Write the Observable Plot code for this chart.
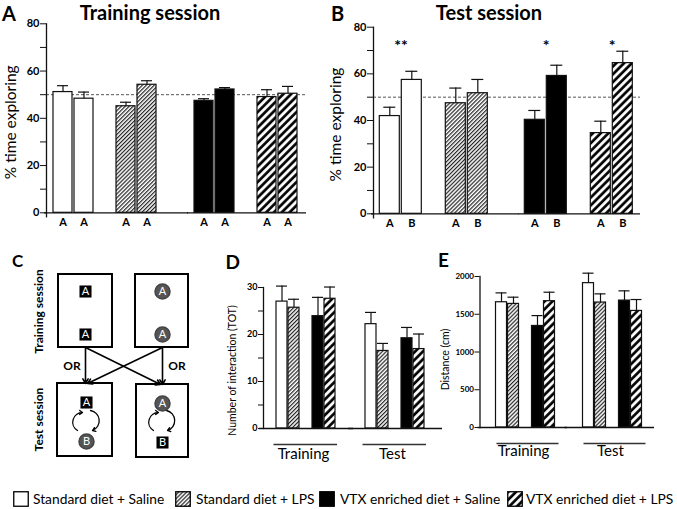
<!DOCTYPE html>
<html><head><meta charset="utf-8">
<script src="https://cdn.jsdelivr.net/npm/d3@7"></script>
<script src="https://cdn.jsdelivr.net/npm/@observablehq/plot@0.6"></script>
<style>
body{margin:0;background:#fff}
#fig{position:relative;width:677px;height:509px;background:#fff;font-family:Lato,sans-serif;color:#000;overflow:hidden}
.abs{position:absolute;line-height:1;white-space:nowrap}
.letter{font-weight:700}
.title{font-weight:700;font-size:20px;transform:translateX(-50%)}
.legtext{font-size:13.8px}
.panel{position:absolute}
</style></head><body>
<div id="fig">
<svg width="0" height="0" style="position:absolute">
<defs>
<pattern id="hatchFine" width="2.8" height="2.8" patternUnits="userSpaceOnUse" patternTransform="rotate(45)">
<rect width="2.8" height="2.8" fill="#fff"/><line x1="0.6" y1="0" x2="0.6" y2="2.8" stroke="#222" stroke-width="1.2"/>
</pattern>
<pattern id="hatchBold" width="5.5" height="5.5" patternUnits="userSpaceOnUse" patternTransform="rotate(45)">
<rect width="5.5" height="5.5" fill="#fff"/><line x1="1.5" y1="0" x2="1.5" y2="5.5" stroke="#000" stroke-width="2.7"/>
</pattern>
</defs></svg>
<div class="abs letter" style="left:2px;top:2.5px;font-size:20px">A</div>
<div class="abs title" style="left:150px;top:2px">Training session</div>
<div class="abs letter" style="left:331px;top:2.5px;font-size:20px">B</div>
<div class="abs title" style="left:489px;top:2px">Test session</div>
<div class="abs letter" style="left:12px;top:252px;font-size:17px">C</div>
<div class="abs letter" style="left:225.5px;top:251.8px;font-size:19px">D</div>
<div class="abs letter" style="left:438px;top:249.8px;font-size:19px">E</div>
<div id="pA" class="panel" style="left:0;top:0;width:322px;height:235px"></div>
<div id="pB" class="panel" style="left:322px;top:0;width:355px;height:235px"></div>
<div id="pC" class="panel" style="left:0;top:240px;width:210px;height:230px"></div>
<div id="pD" class="panel" style="left:210px;top:240px;width:240px;height:235px"></div>
<div id="pE" class="panel" style="left:440px;top:240px;width:237px;height:235px"></div>
<div id="legend"></div>
</div>
<script>
// ---------- data ----------
const groups = ["Standard diet + Saline", "Standard diet + LPS", "VTX enriched diet + Saline", "VTX enriched diet + LPS"];
const diets = ["Standard diet", "VTX enriched diet"];
const treatments = ["Saline", "LPS"];
const fills = ["#ffffff", "url(#hatchFine)", "#000000", "url(#hatchBold)"];

// Panel A: training session, % time exploring each object
const trainingObjects = ["A", "A"];
const trainingFirstMean = [51.1, 45.1, 47.4, 49.0];
const trainingFirstSem = [2.7, 1.7, 0.9, 3.1];
const trainingSecondMean = [48.3, 54.2, 52.2, 50.4];
const trainingSecondSem = [2.8, 1.7, 0.8, 3.1];

// Panel B: test session
const testObjects = ["A", "B"];
const testFirstMean = [41.9, 47.4, 40.3, 34.6];
const testFirstSem = [3.8, 6.5, 4.0, 5.1];
const testSecondMean = [57.4, 51.7, 59.1, 64.6];
const testSecondSem = [3.7, 5.9, 4.6, 5.1];
const testSignificance = ["**", "", "*", "*"];
const chanceLevel = 50;
const percentTicks = [0, 20, 40, 60, 80];
const percentMinorTicks = [10, 30, 50, 70];

// Panel D: number of interactions
const sessions = ["Training", "Test"];
const interactionTraining = [27.0, 25.7, 23.9, 27.6];
const interactionTrainingSem = [3.3, 1.8, 4.0, 2.5];
const interactionTest = [22.2, 16.5, 19.2, 16.9];
const interactionTestSem = [2.5, 1.6, 2.3, 3.2];
const interactionTicks = [0, 10, 20, 30];
const interactionMinorTicks = [5, 15, 25];

// Panel E: distance travelled (cm)
const distanceTraining = [1659, 1637, 1345, 1673];
const distanceTrainingSem = [124, 89, 137, 119];
const distanceTest = [1912, 1655, 1681, 1544];
const distanceTestSem = [132, 115, 129, 151];
const distanceTicks = [0, 500, 1000, 1500, 2000];

// Panel C: schematic of the protocol (diagram units)
const cBoxes = [
  {x1: 58, y1: 34, x2: 112, y2: 107}, {x1: 135, y1: 34, x2: 188, y2: 107},
  {x1: 57, y1: 143, x2: 112, y2: 216}, {x1: 136, y1: 144, x2: 188, y2: 217}
];
const cObjects = [
  {shape: "square", label: "A", x: 85, y: 51}, {shape: "square", label: "A", x: 85, y: 94},
  {shape: "circle", label: "A", x: 162, y: 51}, {shape: "circle", label: "A", x: 162, y: 94},
  {shape: "square", label: "A", x: 86, y: 162}, {shape: "circle", label: "B", x: 86, y: 201},
  {shape: "circle", label: "A", x: 162, y: 163}, {shape: "square", label: "B", x: 162, y: 202}
];
const cLinks = [
  {x1: 85, y1: 107, x2: 85, y2: 143}, {x1: 85, y1: 107, x2: 160, y2: 144},
  {x1: 162, y1: 107, x2: 162, y2: 144}, {x1: 162, y1: 107, x2: 87, y2: 143}
];
const cSwaps = [
  {x1: 77, y1: 190, x2: 82, y2: 172}, {x1: 90, y1: 170, x2: 92, y2: 190},
  {x1: 153, y1: 190, x2: 158, y2: 172}, {x1: 166, y1: 170, x2: 167, y2: 190}
];
const cOrLabels = [{x: 71.5, y: 126, text: "OR"}, {x: 176.5, y: 126, text: "OR"}];
const cSessionLabels = [{x: 39, y: 71, text: "Training session"}, {x: 39, y: 179, text: "Test session"}];

// ---------- drawing ----------
const ink = "#111";
const baseStyle = {fontFamily: "Lato, sans-serif", fontSize: "11px", color: "#000", background: "none", overflow: "visible", maxWidth: "none"};
const slotDomain = ["Saline 1", "Saline 2", " ", "LPS 1", "LPS 2"];
const slotTicks = slotDomain.filter(s => s.trim());

function objectRecords(objects, m1, s1, m2, s2) {
  return groups.flatMap((group, i) => [[m1, s1], [m2, s2]].map(([m, s], k) => ({
    group, diet: diets[Math.floor(i / 2)], slot: `${treatments[i % 2]} ${k + 1}`,
    object: objects[k], mean: m[i], sem: s[i]
  })));
}

function objectPanel(o) {
  const bars = objectRecords(o.objects, o.m1, o.s1, o.m2, o.s2);
  const stars = groups.map((group, i) => ({diet: diets[Math.floor(i / 2)], slot: `${treatments[i % 2]} 1`, sig: o.sig ? o.sig[i] : ""}))
    .filter(d => d.sig);
  const marks = [
    Plot.ruleY([chanceLevel], {stroke: "#555", strokeDasharray: "3,2", strokeWidth: 1, facetAnchor: "left", insetRight: -o.gap}),
    Plot.ruleY([chanceLevel], {stroke: "#555", strokeDasharray: "3,2", strokeWidth: 1, facetAnchor: "right", insetRight: -2}),
    Plot.barY(bars, {fx: "diet", x: "slot", y: "mean", fill: "group", stroke: ink, strokeWidth: 1.2}),
    Plot.ruleX(bars, {fx: "diet", x: "slot", y1: "mean", y2: d => d.mean + d.sem, stroke: ink, strokeWidth: 1.2}),
    Plot.tickY(bars, {fx: "diet", x: "slot", y: d => d.mean + d.sem, stroke: ink, strokeWidth: 1.2, insetLeft: 4, insetRight: 4}),
    Plot.ruleY([0], {facetAnchor: "left", insetLeft: -2, insetRight: -o.gap, stroke: ink, strokeWidth: 1.3}),
    Plot.ruleY([0], {facetAnchor: "right", insetRight: -2, stroke: ink, strokeWidth: 1.3}),
    Plot.frame({anchor: "left", facetAnchor: "left", insetBottom: -4, stroke: ink, strokeWidth: 1.3}),
    Plot.axisY({ticks: percentTicks, tickSize: 6, tickPadding: 1, fontSize: 11, fontWeight: "bold", label: null, stroke: ink}),
    Plot.axisY({ticks: percentMinorTicks, tickSize: 6, tickFormat: () => "", label: null, stroke: ink}),
    Plot.axisX({ticks: slotTicks, tickFormat: s => o.objects[+s.split(" ")[1] - 1], tickSize: 0, tickPadding: 5, fontSize: 11, fontWeight: "bold", label: null}),
    Plot.text(["% time exploring"], {frameAnchor: "left", textAnchor: "middle", rotate: -90, dx: o.titleDx, dy: 4, fontSize: 15.5, facetAnchor: "left"})
  ];
  if (stars.length) marks.push(Plot.text(stars, {fx: "diet", x: "slot", y: () => 72, text: "sig", dx: o.step / 2, fontSize: 16, fontWeight: "bold"}));
  return Plot.plot({
    width: o.width, height: 235, marginLeft: o.ml, marginRight: o.mr, marginTop: o.mt, marginBottom: o.mb,
    style: baseStyle,
    fx: {domain: diets, paddingInner: o.fxPad, paddingOuter: 0, axis: null, label: null},
    x: {domain: slotDomain, paddingInner: 0.11, paddingOuter: 0.23, axis: null, label: null},
    y: {domain: [0, 80], axis: null, label: null},
    color: {type: "ordinal", domain: groups, range: fills},
    marks
  });
}

function groupPanel(o) {
  const recs = sessions.flatMap((session, j) => groups.map((group, i) => ({session, group, value: o.values[j][i], sem: o.sems[j][i]})));
  const marks = [
    Plot.barY(recs, {fx: "session", x: "group", y: "value", fill: "group", stroke: ink, strokeWidth: 1.2}),
    Plot.ruleX(recs, {fx: "session", x: "group", y1: "value", y2: d => d.value + d.sem, stroke: ink, strokeWidth: 1.2}),
    Plot.tickY(recs, {fx: "session", x: "group", y: d => d.value + d.sem, stroke: ink, strokeWidth: 1.2}),
    Plot.ruleY([0], {insetLeft: o.baseL, insetRight: o.baseR, stroke: ink, strokeWidth: 1.3}),
    Plot.ruleY([0], {dy: 16, insetLeft: o.ulL, insetRight: o.ulR, stroke: "#333", strokeWidth: 1.3}),
    Plot.frame({anchor: "left", facetAnchor: "left", insetLeft: o.shift, stroke: ink, strokeWidth: 1.3}),
    Plot.axisY({ticks: o.ticks, tickSize: 5, tickPadding: 1, dx: o.shift, tickFormat: d3.format("d"), fontSize: o.tickFont, fontWeight: "bold", label: null, stroke: ink}),
    Plot.axisFx({anchor: "bottom", tickSize: 0, tickPadding: o.fxText, dx: o.fxDx, fontSize: 15, label: null}),
    Plot.text([o.yTitle], {frameAnchor: "left", textAnchor: "middle", rotate: -90, dx: o.titleDx, dy: o.titleDy, fontSize: 10.5, facetAnchor: "left"})
  ];
  if (o.minor) marks.push(Plot.axisY({ticks: o.minor, tickSize: 5, tickFormat: () => "", dx: o.shift, label: null, stroke: ink}));
  return Plot.plot({
    width: o.width, height: 235, marginLeft: o.ml, marginRight: o.mr, marginTop: o.mt, marginBottom: o.mb,
    style: baseStyle,
    fx: {domain: sessions, paddingInner: o.fxPad, paddingOuter: 0, label: null},
    x: {domain: [groups[0], groups[1], " ", groups[2], groups[3]], paddingInner: o.xIn, paddingOuter: o.xOut, axis: null, label: null},
    y: {domain: o.yDomain, axis: null, label: null},
    color: {type: "ordinal", domain: groups, range: fills},
    marks
  });
}

document.getElementById("pA").append(objectPanel({
  objects: trainingObjects, m1: trainingFirstMean, s1: trainingFirstSem, m2: trainingSecondMean, s2: trainingSecondSem,
  width: 322, ml: 45, mr: 17.3, mt: 23.3, mb: 22.7, fxPad: 0.171, gap: 25, step: 22, titleDx: -35.5
}));
document.getElementById("pB").append(objectPanel({
  objects: testObjects, m1: testFirstMean, s1: testFirstSem, m2: testSecondMean, s2: testSecondSem, sig: testSignificance,
  width: 355, ml: 50.7, mr: 38.8, mt: 26.7, mb: 21.7, fxPad: 0.170, gap: 25.5, step: 22.5, titleDx: -37.5
}));
document.getElementById("pD").append(groupPanel({
  values: [interactionTraining, interactionTest], sems: [interactionTrainingSem, interactionTestSem],
  yDomain: [0, 30], ticks: interactionTicks, minor: interactionMinorTicks, tickFont: 9,
  width: 240, ml: 53, mr: 13.6, mt: 47, mb: 47, fxPad: 0.0517, xIn: 0.098, xOut: 0.86,
  baseL: -4, baseR: -6, ulL: 10.5, ulR: 10, shift: 0, fxText: 20, fxDx: -2, yTitle: "Number of interaction (TOT)", titleDx: -31, titleDy: 12.5
}));
document.getElementById("pE").append(groupPanel({
  values: [distanceTraining, distanceTest], sems: [distanceTrainingSem, distanceTestSem],
  yDomain: [0, 2000], ticks: distanceTicks, tickFont: 8,
  width: 237, ml: 46.5, mr: 27, mt: 36, mb: 48, fxPad: 0.121, xIn: 0.08, xOut: 0.6,
  baseL: -9.5, baseR: -4, ulL: 9.5, ulR: 4.5, shift: -7.5, fxText: 18, fxDx: -2, yTitle: "Distance (cm)", titleDx: -41.5, titleDy: 7.5
}));

document.getElementById("pC").append(Plot.plot({
  width: 210, height: 230, margin: 0, style: baseStyle,
  x: {domain: [0, 210], range: [0, 210], axis: null},
  y: {domain: [0, 230], range: [0, 230], axis: null},
  marks: [
    Plot.rect(cBoxes, {x1: "x1", y1: "y1", x2: "x2", y2: "y2", fill: "white", stroke: "#000", strokeWidth: 2}),
    Plot.arrow(cLinks, {x1: "x1", y1: "y1", x2: "x2", y2: "y2", stroke: "#000", strokeWidth: 1.6, headLength: 5, headAngle: 60}),
    Plot.arrow(cSwaps, {x1: "x1", y1: "y1", x2: "x2", y2: "y2", bend: 75, stroke: "#000", strokeWidth: 1.3, headLength: 4, headAngle: 70}),
    Plot.dot(cObjects.filter(d => d.shape === "circle"), {x: "x", y: "y", r: 7.5, fill: "#555", stroke: "#444"}),
    Plot.dot(cObjects.filter(d => d.shape === "square"), {x: "x", y: "y", r: 6.8, symbol: "square", fill: "#000"}),
    Plot.text(cObjects, {x: "x", y: "y", text: "label", fill: "white", fontSize: 11}),
    Plot.text(cOrLabels, {x: "x", y: "y", text: "text", fontWeight: "bold", fontSize: 12}),
    Plot.text(cSessionLabels, {x: "x", y: "y", text: "text", rotate: -90, fontWeight: "bold", fontSize: 12})
  ]
}));

// legend
const legend = document.getElementById("legend");
const swatchX = [13, 175, 319, 507];
const textX = [33, 196, 340, 526];
groups.forEach((g, i) => {
  const sw = document.createElement("div");
  sw.className = "abs";
  sw.style.left = swatchX[i] + "px"; sw.style.top = "491px";
  sw.innerHTML = `<svg width="16" height="16" style="display:block"><rect x="0.75" y="0.75" width="14.5" height="14.5" fill="${fills[i]}" stroke="#000" stroke-width="1.3"/></svg>`;
  legend.append(sw);
  const t = document.createElement("div");
  t.className = "abs legtext";
  t.style.left = textX[i] + "px"; t.style.top = "491.5px";
  t.textContent = g;
  legend.append(t);
});
</script>
</body></html>
